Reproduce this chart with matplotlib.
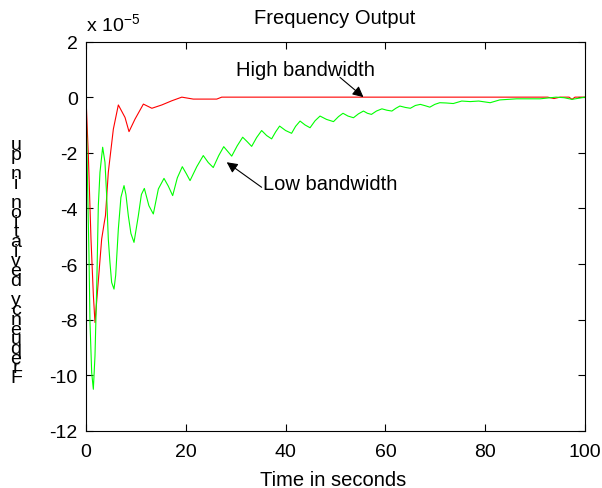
import numpy as np
import matplotlib
matplotlib.use('Agg')
import matplotlib.pyplot as plt

plt.rcParams['font.family'] = ['Liberation Sans', 'DejaVu Sans']
plt.rcParams['mathtext.fontset'] = 'custom'
plt.rcParams['mathtext.rm'] = 'Liberation Sans'
plt.rcParams['axes.unicode_minus'] = False

# Frequency deviation (units of 1e-5 pu)
t_high = [0, 0.47, 1.0, 1.47, 1.8, 2.34, 3.14, 3.67, 3.9, 4.47, 5.48, 6.48,
          7.82, 8.62, 9.82, 11.5, 13.2, 15.2, 17.2, 19.2, 21.5, 26.2, 27.2,
          60.0, 92.5, 93.8, 95.0, 96.8, 97.4, 98.0, 100.0]
f_high = [0, -2.1, -5.1, -7.1, -8.1, -6.9, -5.1, -4.5, -4.26, -2.7, -1.15,
          -0.28, -0.73, -1.24, -0.79, -0.25, -0.4, -0.28, -0.13, 0, -0.07,
          -0.07, 0, 0, 0, -0.05, 0, 0, -0.08, 0, 0]

t_low = [0, 0.33, 0.6, 0.8, 1.14, 1.47, 1.8, 2.14, 2.47, 2.8, 3.34, 3.8, 4.14,
         4.47, 4.8, 5.14, 5.61, 5.95, 6.48, 7.0, 7.62, 8.0, 8.48, 9.0, 9.62,
         10.49, 11.1, 11.69, 12.6, 13.49, 14.5, 15.63, 16.5, 17.37, 18.3,
         19.3, 20.1, 20.85, 22.2, 23.5, 24.5, 25.5, 26.6, 27.6, 28.4, 29.2,
         30.3, 31.4, 32.3, 33.2, 34.2, 35.2, 36.2, 37.2, 38.0, 38.8, 40.0,
         41.2, 42.0, 42.9, 43.9, 44.9, 45.9, 46.9, 48.2, 49.6, 50.6, 51.5,
         52.5, 53.6, 54.6, 55.6, 56.4, 57.2, 58.2, 59.3, 60.3, 61.3, 62.1,
         62.9, 64.0, 65.0, 66.0, 67.0, 68.0, 68.9, 69.9, 70.9, 72.2, 73.6,
         75.3, 77.0, 78.7, 81.0, 82.9, 86.3, 91.0, 94.2, 95.8, 97.4, 100.0]
f_low = [0, -3.3, -5.7, -8.1, -9.9, -10.5, -9.3, -6.9, -3.9, -2.7, -1.8, -2.34,
         -3.54, -5.1, -5.94, -6.66, -6.9, -6.4, -4.74, -3.6, -3.18, -3.5,
         -4.26, -4.9, -5.22, -4.26, -3.5, -3.28, -3.9, -4.2, -3.3, -2.92,
         -3.2, -3.54, -2.9, -2.5, -2.75, -3.0, -2.5, -2.1, -2.35, -2.53, -2.1,
         -1.78, -1.95, -2.12, -1.75, -1.44, -1.6, -1.77, -1.45, -1.2, -1.38,
         -1.5, -1.25, -1.04, -1.2, -1.3, -1.05, -0.86, -1.0, -1.1, -0.85,
         -0.68, -0.8, -0.88, -0.7, -0.58, -0.68, -0.74, -0.6, -0.5, -0.58,
         -0.62, -0.5, -0.42, -0.47, -0.5, -0.4, -0.32, -0.37, -0.4, -0.3,
         -0.26, -0.31, -0.36, -0.26, -0.2, -0.21, -0.23, -0.14, -0.16, -0.14,
         -0.2, -0.1, -0.06, -0.06, 0, -0.02, -0.08, 0]

x_ticks = [0, 20, 40, 60, 80, 100]
y_ticks = [-12, -10, -8, -6, -4, -2, 0, 2]

fig = plt.figure(figsize=(6.02, 4.89), dpi=100)
ax = fig.add_axes([86 / 602, 57 / 489, 499 / 602, 389.5 / 489])

ax.plot(t_high, f_high, color='#ff0000', lw=0.8)
ax.plot(t_low, f_low, color='#00ff00', lw=0.8)

ax.set_xlim(0, 100)
ax.set_ylim(-12, 2)
ax.set_xticks(x_ticks)
ax.set_yticks(y_ticks)
ax.tick_params(direction='in', top=True, right=True, length=5, width=0.8,
               labelsize=14, pad=6)
ax.tick_params(axis='x', pad=8.5)
for s in ax.spines.values():
    s.set_linewidth(0.8)

# annotations
ax.text(30.1, 1.01, 'High bandwidth', fontsize=14.5, va='center', ha='left')
ax.annotate('', xy=(55.6, 0.0), xytext=(50.9, 0.71),
            arrowprops=dict(arrowstyle='-|>', color='k', lw=0.8,
                            mutation_scale=16, shrinkA=0, shrinkB=0))
ax.text(35.4, -3.12, 'Low bandwidth', fontsize=14.5, va='center', ha='left')
ax.annotate('', xy=(28.2, -2.34), xytext=(35.2, -3.24),
            arrowprops=dict(arrowstyle='-|>', color='k', lw=0.8,
                            mutation_scale=16, shrinkA=0, shrinkB=0))

# title, labels and exponent
fig.text(335 / 602, 1 - 24 / 489, 'Frequency Output', fontsize=14.5,
         ha='center', va='baseline')
fig.text(333 / 602, 1 - 486 / 489, 'Time in seconds', fontsize=14.5,
         ha='center', va='baseline')
fig.text(86 / 602, 1 - 32 / 489, r'x 10$^{-5}$', fontsize=14,
         ha='left', va='baseline')

ylab = 'Frequency deviation in pu'
fig.text(16 / 602, 1 - 262 / 489, '\n'.join(reversed(ylab)), fontsize=14,
         ha='center', va='center', linespacing=0.44)

fig.savefig('out.png', dpi=100)
